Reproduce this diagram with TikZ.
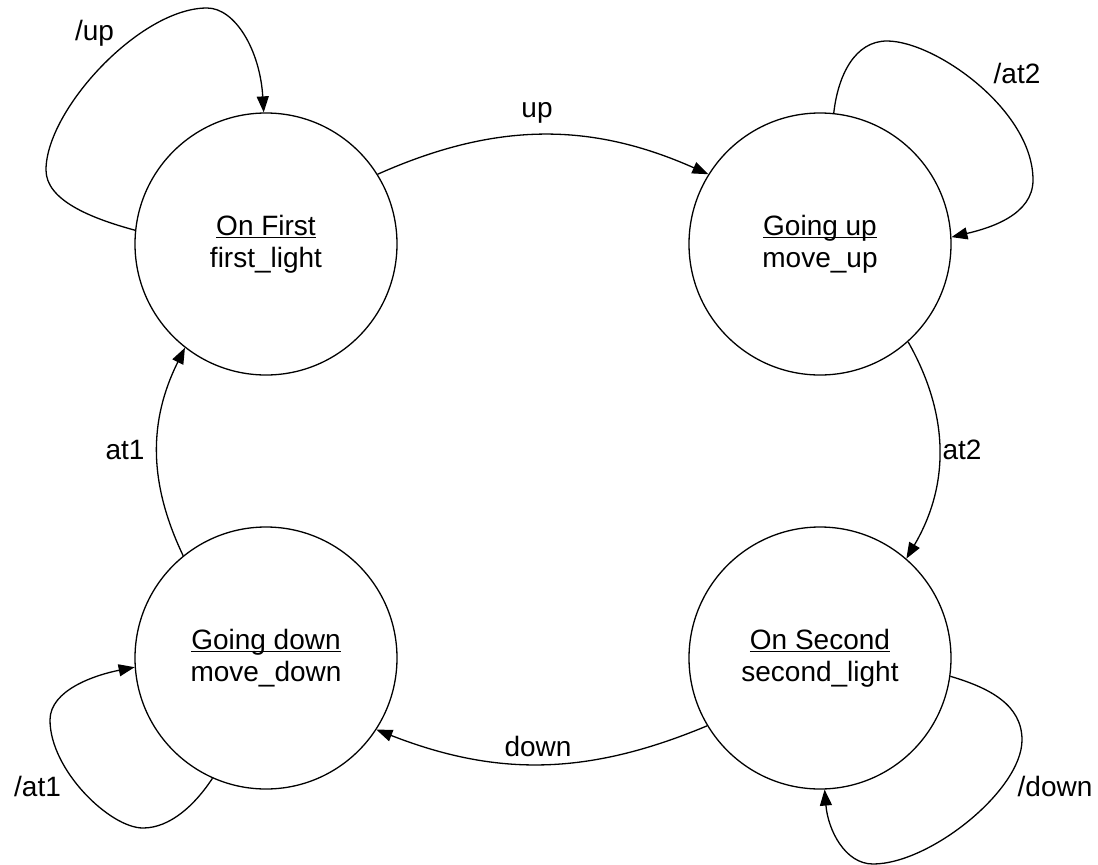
\documentclass[tikz,border=0pt]{standalone}
\usepackage{fontspec}
\setmainfont{Liberation Sans}
\usetikzlibrary{arrows.meta}
\newcommand\myul[1]{\setbox0=\hbox{#1}\rlap{\rule[-2.6pt]{\wd0}{1.3pt}}\box0}
\tikzset{
  statebox/.style={draw, circle, line width=1.3pt, minimum size=262pt, inner sep=0pt, align=center,
    font=\fontsize{28}{32}\selectfont},
  arr/.style={line width=1.3pt, -{Triangle[length=16pt,width=12pt]}},
  lbl/.style={inner sep=0pt, font=\fontsize{28}{32}\selectfont}
}
\begin{document}
\begin{tikzpicture}[x=1pt,y=-1pt]
\useasboundingbox (0,0) rectangle (1098,865);
\node[statebox] (first) at (266,244) {\myul{On First}\\first\_light};
\node[statebox] (goup) at (820,244) {\myul{Going up}\\move\_up};
\node[statebox] (godown) at (266,658) {\myul{Going down}\\move\_down};
\node[statebox] (second) at (820,658) {\myul{On Second}\\second\_light};
% main transitions
\draw[arr] (first.32) to[bend left=24] (goup.148);
\draw[arr] (goup.-48) to[bend left=30] (second.49);
\draw[arr] (second.211) to[bend left=22] (godown.-33);
\draw[arr] (godown.129) to[bend left=26] (first.232);
% self loops
\draw[arr] (first.174) .. controls (90,218) and (46,200) .. (46,170)
  .. controls (46,110) and (140,8) .. (207,8)
  .. controls (235,8) and (260,50) .. (first.91);
\draw[arr] (goup.84) .. controls (838,75) and (855,41) .. (887,41)
  .. controls (935,41) and (1033,110) .. (1033,180)
  .. controls (1033,215) and (990,228) .. (goup.3);
\draw[arr] (godown.246) .. controls (195,805) and (170,828) .. (143,828)
  .. controls (110,828) and (50,770) .. (50,720)
  .. controls (50,690) and (95,675) .. (godown.184);
\draw[arr] (second.-8) .. controls (990,688) and (1022,705) .. (1022,740)
  .. controls (1022,790) and (930,864) .. (873,864)
  .. controls (845,864) and (828,830) .. (second.-88);
% labels
\node[lbl] (lup) at (537,112.5) {up};
\node[lbl] (lat2) at (962,449.5) {at2};
\node[lbl] (ldown) at (538,746) {down};
\node[lbl] (lat1) at (125,449.5) {at1};
\node[lbl] (lsup) at (94.5,33) {/up};
\node[lbl] (lsat2) at (1017,73) {/at2};
\node[lbl] (lsat1) at (37.5,786.5) {/at1};
\node[lbl] (lsdown) at (1055,786.5) {/down};
\end{tikzpicture}
\end{document}
